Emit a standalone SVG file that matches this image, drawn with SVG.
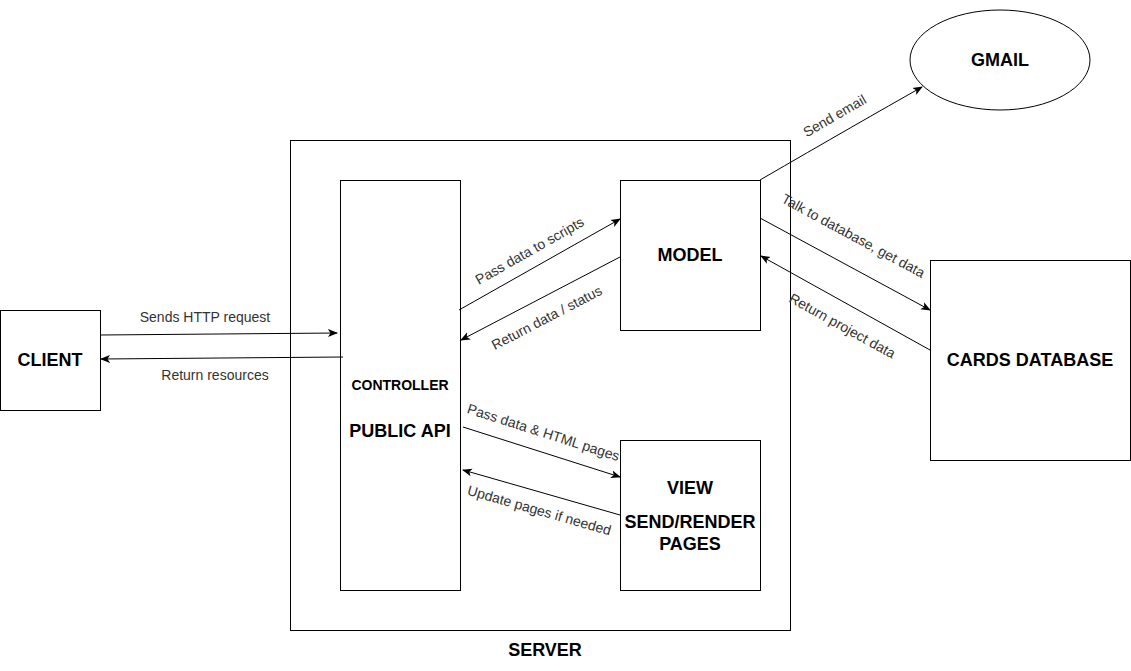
<svg xmlns="http://www.w3.org/2000/svg" width="1131" height="671" viewBox="0 0 1131 671">
<style>
.box{fill:#fff;stroke:#000;stroke-width:1}
.t{font-family:"Liberation Sans",Arial,sans-serif;font-weight:bold;font-size:18px;fill:#000;text-anchor:middle}
.ts{font-size:14px}
.e{fill:none;stroke:#000;stroke-width:1}
.l{font-family:"Liberation Sans",Arial,sans-serif;font-size:14px;fill:#333;text-anchor:middle}
</style>
<defs>
<marker id="a" viewBox="0 0 10 10" refX="9" refY="5" markerWidth="10" markerHeight="10" markerUnits="userSpaceOnUse" orient="auto">
<path d="M0,1 L10,5 L0,9 L2.5,5 Z" fill="#000"/>
</marker>
</defs>
<rect width="1131" height="671" fill="#fff"/>
<g id="server">
<rect class="box" x="290.5" y="140.5" width="500" height="490"/>
<text class="t" x="545" y="656">SERVER</text>
</g>
<g id="controller">
<rect class="box" x="340.5" y="180.5" width="120" height="410"/>
<text class="t ts" x="400" y="390">CONTROLLER</text>
<text class="t" x="400" y="437">PUBLIC API</text>
</g>
<g id="model">
<rect class="box" x="620.5" y="180.5" width="140" height="150"/>
<text class="t" x="690" y="261">MODEL</text>
</g>
<g id="view">
<rect class="box" x="620.5" y="440.5" width="140" height="150"/>
<text class="t" x="690" y="494">VIEW</text>
<text class="t" x="690" y="528">SEND/RENDER</text>
<text class="t" x="690" y="550">PAGES</text>
</g>
<g id="client">
<rect class="box" x="0.5" y="310.5" width="100" height="100"/>
<text class="t" x="50" y="366">CLIENT</text>
</g>
<g id="cards">
<rect class="box" x="930.5" y="260.5" width="200" height="200"/>
<text class="t" x="1030" y="366">CARDS DATABASE</text>
</g>
<g id="gmail">
<ellipse class="box" cx="1000" cy="60" rx="90" ry="50"/>
<text class="t" x="1000" y="66">GMAIL</text>
</g>
<g id="connectors">
<path class="e" d="M100,335 L337,333" marker-end="url(#a)"/>
<path class="e" d="M343,357 L101,359" marker-end="url(#a)"/>
<path class="e" d="M459,310 L620,219" marker-end="url(#a)"/>
<path class="e" d="M620,257 L461,340" marker-end="url(#a)"/>
<path class="e" d="M463,427 L620,477" marker-end="url(#a)"/>
<path class="e" d="M620,515 L463,470" marker-end="url(#a)"/>
<path class="e" d="M760,180 Q 860,122 922,87" marker-end="url(#a)"/>
<path class="e" d="M760,218 L930,310" marker-end="url(#a)"/>
<path class="e" d="M930,350 L761,256" marker-end="url(#a)"/>
<text class="l" x="205" y="322">Sends HTTP request</text>
<text class="l" x="215" y="380">Return resources</text>
<text class="l" transform="translate(532,255) rotate(-29.5)">Pass data to scripts</text>
<text class="l" transform="translate(549,322) rotate(-27.5)">Return data / status</text>
<text class="l" transform="translate(542,437) rotate(17.7)">Pass data &amp; HTML pages</text>
<text class="l" transform="translate(538,515) rotate(16)">Update pages if needed</text>
<text class="l" transform="translate(837,120) rotate(-30)">Send email</text>
<text class="l" transform="translate(851,240) rotate(28.4)">Talk to database, get data</text>
<text class="l" transform="translate(840,330) rotate(29)">Return project data</text>
</g>
</svg>
